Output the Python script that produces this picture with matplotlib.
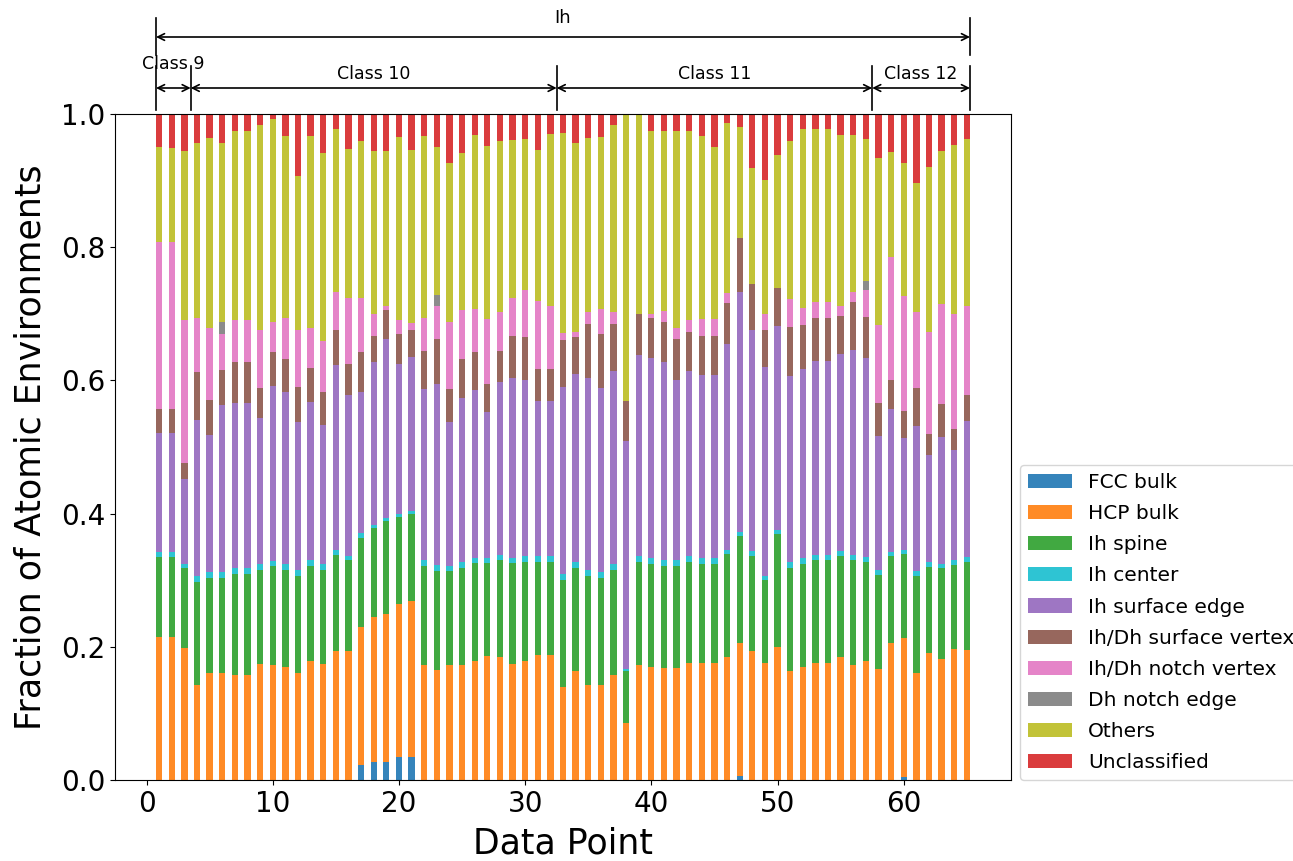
import numpy as np
import matplotlib
matplotlib.use("Agg")
import matplotlib.pyplot as plt

# Data point index (x)
data_points = list(range(1, 66))

# Cumulative upper boundary of each stacked category (fraction)
top_fcc = [0, 0, 0, 0, 0, 0, 0, 0, 0, 0, 0, 0, 0, 0, 0, 0, .023, .027, .027, .034,
           .034, 0, 0, 0, 0, 0, 0, 0, 0, 0, 0, 0, 0, 0, 0, 0, 0, 0, 0, 0,
           0, 0, 0, 0, 0, 0, .006, 0, 0, 0, 0, 0, 0, 0, 0, 0, 0, 0, 0, .005,
           0, 0, 0, 0, 0]
top_hcp = [.214, .214, .198, .143, .160, .160, .158, .158, .174, .173, .170, .161, .178, .174, .193, .193, .229, .244, .249, .264,
           .269, .173, .165, .173, .172, .179, .186, .185, .174, .179, .188, .188, .140, .164, .143, .142, .157, .085, .172, .170,
           .168, .168, .176, .175, .175, .184, .206, .194, .175, .200, .164, .170, .176, .176, .184, .173, .179, .166, .206, .213,
           .160, .191, .182, .196, .195]
top_spine = [.335, .335, .318, .297, .304, .304, .309, .309, .316, .322, .316, .307, .322, .316, .338, .330, .364, .378, .389, .395,
             .399, .322, .314, .314, .319, .326, .326, .330, .326, .328, .328, .328, .300, .319, .306, .303, .316, .164, .328, .324,
             .322, .322, .328, .324, .324, .339, .366, .337, .300, .369, .319, .325, .330, .330, .336, .330, .328, .308, .336, .339,
             .306, .320, .318, .323, .328]
top_center = [.342, .342, .325, .306, .312, .312, .319, .319, .324, .329, .324, .315, .330, .324, .345, .337, .371, .383, .394, .400,
              .404, .330, .323, .322, .328, .333, .333, .338, .333, .336, .336, .336, .310, .328, .315, .312, .324, .166, .336, .333,
              .330, .330, .336, .333, .333, .346, .373, .344, .306, .375, .327, .333, .338, .338, .344, .338, .335, .316, .343, .346,
              .314, .328, .325, .330, .335]
top_edge = [.521, .521, .452, .541, .518, .563, .566, .566, .544, .592, .582, .538, .568, .533, .623, .578, .583, .628, .662, .625,
            .635, .587, .595, .538, .574, .586, .553, .597, .603, .601, .569, .569, .590, .609, .604, .589, .614, .509, .638, .633,
            .627, .601, .614, .608, .608, .654, .733, .676, .620, .682, .607, .617, .629, .629, .640, .646, .633, .517, .557, .513,
            .532, .488, .515, .496, .539]
top_vertex = [.557, .557, .476, .613, .571, .616, .628, .628, .588, .643, .632, .590, .618, .583, .676, .624, .642, .667, .706, .670,
              .676, .644, .662, .587, .632, .642, .595, .644, .667, .665, .617, .617, .661, .665, .685, .670, .684, .569, .699, .693,
              .687, .662, .673, .667, .667, .716, .814, .745, .676, .738, .680, .683, .693, .693, .697, .717, .695, .566, .601, .554,
              .589, .520, .564, .527, .578]
top_notch = [.808, .808, .691, .694, .679, .670, .691, .691, .676, .687, .693, .676, .679, .659, .732, .723, .724, .700, .712, .690,
             .686, .694, .711, .687, .706, .707, .692, .702, .723, .735, .719, .711, .671, .673, .703, .707, .703, .569, .699, .700,
             .704, .679, .690, .692, .692, .731, .814, .745, .700, .738, .722, .708, .718, .718, .712, .732, .735, .683, .786, .727,
             .702, .672, .715, .700, .711]
top_dh_edge = [.808, .808, .691, .694, .679, .688, .691, .691, .676, .687, .693, .676, .679, .659, .732, .723, .724, .700, .712, .690,
               .686, .694, .728, .687, .706, .707, .692, .702, .723, .735, .719, .711, .671, .673, .703, .707, .703, .569, .699, .700,
               .704, .679, .690, .692, .692, .731, .814, .745, .700, .738, .722, .708, .718, .718, .712, .732, .750, .683, .786, .727,
               .702, .672, .715, .700, .711]
top_others = [.951, .949, .945, .956, .964, .956, .974, .974, .983, .992, .967, .907, .967, .942, .977, .947, .960, .945, .945, .965,
              .946, .967, .951, .926, .942, .968, .952, .960, .961, .962, .946, .970, .971, .956, .964, .966, .983, 1.0, 1.0, .975,
              .975, .975, .975, .967, .951, .986, .980, .919, .901, .938, .960, .977, .977, .977, .969, .969, .962, .934, .943, .927,
              .896, .921, .945, .953, .962]
top_unclassified = [1.0] * 65

categories = ["FCC bulk", "HCP bulk", "Ih spine", "Ih center", "Ih surface edge",
              "Ih/Dh surface vertex", "Ih/Dh notch vertex", "Dh notch edge",
              "Others", "Unclassified"]
colors = ["tab:blue", "tab:orange", "tab:green", "tab:cyan", "tab:purple",
          "tab:brown", "tab:pink", "tab:gray", "tab:olive", "tab:red"]

# class annotations: (label, start, end)
class_labels = ["Class 9", "Class 10", "Class 11", "Class 12"]
class_bounds = [0.75, 3.5, 32.5, 57.5, 65.25]
group_label = "Ih"

tops = [top_fcc, top_hcp, top_spine, top_center, top_edge, top_vertex,
        top_notch, top_dh_edge, top_others, top_unclassified]

W, H = 1293, 861
fig = plt.figure(figsize=(W / 100, H / 100), dpi=100)
ax = fig.add_axes([115.3 / W, (H - 780) / H, 895.4 / W, 666 / H])

x = np.array(data_points)
prev = np.zeros(len(x))
for lab, col, top in zip(categories, colors, tops):
    top = np.array(top, dtype=float)
    ax.bar(x, top - prev, bottom=prev, width=0.5, color=col, label=lab, alpha=0.9)
    prev = top

ax.set_ylim(0, 1)
ax.set_xlabel("Data Point", fontsize=25, labelpad=6)
ax.set_ylabel("Fraction of Atomic Environments", fontsize=25, labelpad=10)
ax.tick_params(axis="both", labelsize=20)

leg = ax.legend(loc="lower left", bbox_to_anchor=(1.01, 0.0), borderaxespad=0,
                fontsize=14.5, frameon=True, handlelength=2.2, labelspacing=0.6)

# Annotations above the axes
trans = ax.get_xaxis_transform()
arrow_kw = dict(arrowstyle="<->", color="black", lw=1.2, shrinkA=0, shrinkB=0,
                mutation_scale=12)
y_top = (780 - 37) / 666
ax.annotate("", xy=(class_bounds[0], y_top), xytext=(class_bounds[-1], y_top),
            xycoords=trans, textcoords=trans, arrowprops=arrow_kw, annotation_clip=False)
ax.text((class_bounds[0] + class_bounds[-1]) / 2, y_top + 0.015, group_label,
        transform=trans, ha="center", va="bottom", fontsize=13)
for xb in (class_bounds[0], class_bounds[-1]):
    ax.plot([xb, xb], [(780 - 55) / 666, (780 - 18) / 666], transform=trans,
            color="black", lw=1.2, clip_on=False)

y_cls = (780 - 88) / 666
for i, lab in enumerate(class_labels):
    a, b = class_bounds[i], class_bounds[i + 1]
    ax.annotate("", xy=(a, y_cls), xytext=(b, y_cls), xycoords=trans, textcoords=trans,
                arrowprops=arrow_kw, annotation_clip=False)
    dy = 0.022 if i == 0 else 0.008
    ax.text((a + b) / 2, y_cls + dy, lab, transform=trans, ha="center",
            va="bottom", fontsize=12.5)
for xb in class_bounds:
    ax.plot([xb, xb], [(780 - 110) / 666, (780 - 66) / 666], transform=trans,
            color="black", lw=1.2, clip_on=False)

fig.savefig("out.png", dpi=100)
